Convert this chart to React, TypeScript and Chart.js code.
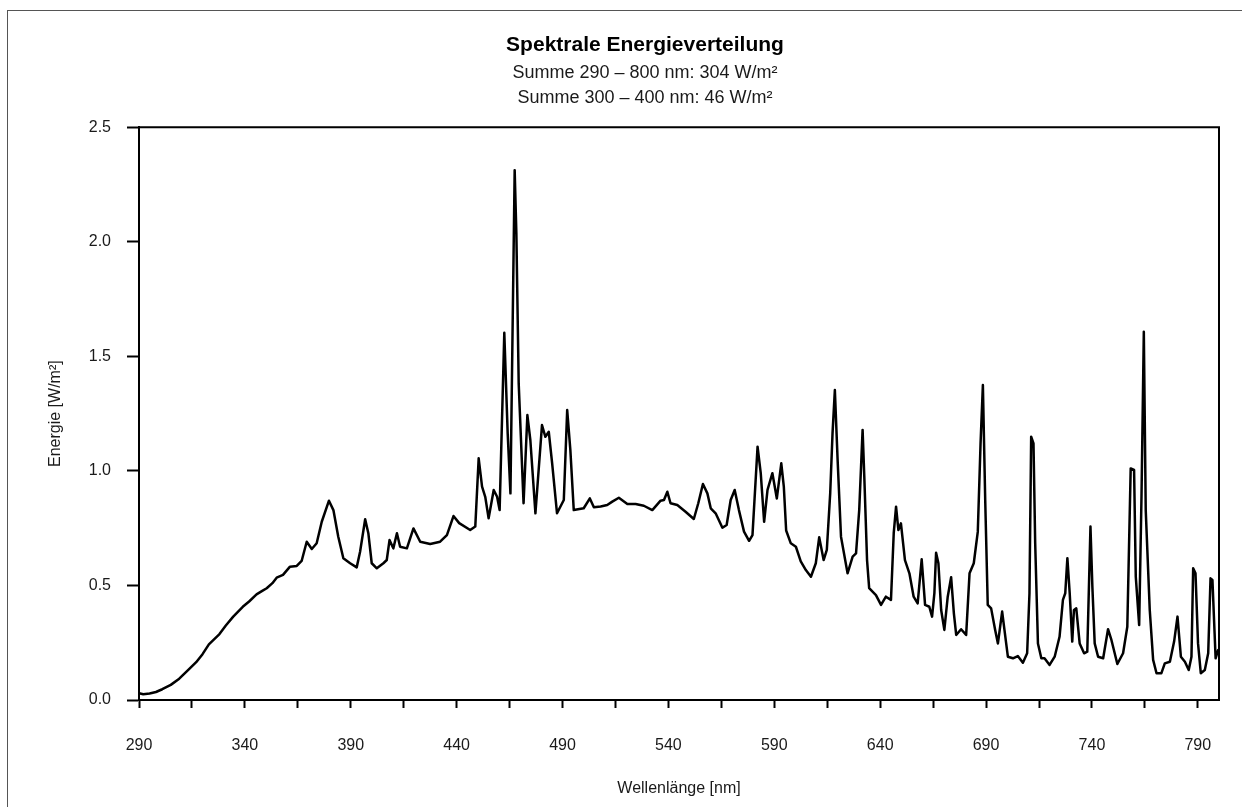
import { useEffect, useRef } from 'react';
import { Chart, registerables } from 'chart.js';

Chart.register(...registerables);

// Text
const TITLE = 'Spektrale Energieverteilung';
const SUBTITLES = ['Summe 290 – 800 nm: 304 W/m²', 'Summe 300 – 400 nm: 46 W/m²'];
const X_TITLE = 'Wellenlänge [nm]';
const Y_TITLE = 'Energie [W/m²]';

// Axes
const X_MIN = 290;
const X_MAX = 800;
const X_TICKS = [290, 315, 340, 365, 390, 415, 440, 465, 490, 515, 540, 565, 590, 615, 640, 665, 690, 715, 740, 765, 790];
const X_LABELS = [290, 340, 390, 440, 490, 540, 590, 640, 690, 740, 790];
const Y_MIN = 0;
const Y_MAX = 2.5;
const Y_STEP = 0.5;

// Spectrum: wavelength [nm] and energy [W/m²]
const wavelengths = [
  290, 292, 295, 298, 301, 305, 309, 314, 317, 320, 323, 328, 331, 334.5, 339, 342, 345.5, 348, 350.3, 353,
  355, 358, 361.3, 364.5, 366.8, 369.2, 371.6, 373.9, 376.3, 379.7, 381.8, 384.1, 386.5, 389.7, 392.8, 394.4,
  396.8, 398.3, 399.9, 402.3, 405.4, 407, 408.3, 410.1, 411.8, 413.3, 416.5, 419.6, 422.8, 427.5, 432.2, 435.4,
  438.5, 441.2, 446.4, 448.8, 450.4, 452, 453.5, 455.1, 457.5, 459.1, 460.3, 462.5, 464.1, 465.4, 467.4, 468.2,
  469.3, 471.6, 473.4, 474.8, 477.2, 480.3, 481.9, 483.5, 485.1, 487.4, 490.6, 492.2, 493.7, 495.3, 500, 502.9,
  504.8, 508, 511.1, 513.5, 516.6, 520.6, 524.5, 528.4, 532.4, 536.3, 537.9, 539.5, 541, 544.2, 548.1, 552,
  554.1, 556.3, 558.4, 560, 562.3, 565.5, 567.5, 569.4, 571.3, 573.3, 575.7, 578.1, 579.7, 582.1, 583.6, 585.2,
  586.8, 589.1, 591.2, 593.3, 594.5, 595.6, 597.8, 600.2, 602.5, 604.9, 607.3, 609.6, 611.2, 613.3, 614.8, 616.4,
  617.5, 618.6, 619.9, 621.5, 624.6, 627, 628.6, 630.1, 631.7, 632.5, 633.8, 634.8, 638, 640.4, 642.7, 645.1,
  646.4, 647.5, 648.6, 649.8, 651.7, 653.8, 655.8, 657.7, 659.6, 661.2, 663.2, 664.5, 665.6, 666.4, 667.5, 668.8,
  670.3, 671.9, 673.5, 674.8, 675.9, 678.2, 680.6, 682.2, 684.2, 686.1, 687.4, 688.5, 689.6, 690.8, 692.4, 694.3,
  695.6, 697.6, 699.5, 700.3, 702.7, 705, 707.4, 709.4, 710.5, 711.3, 712.4, 713.2, 714.5, 716.1, 717.6, 720,
  722.4, 724.7, 726.3, 727.4, 728.4, 729.5, 730.7, 731.5, 732.6, 734.2, 736.3, 737.8, 739.3, 740.2, 741.3, 742.9,
  745.3, 747.6, 749.2, 752, 754.7, 756.7, 758.3, 759.9, 760.7, 762.3, 763.4, 764.5, 765.4, 767.3, 768.9, 770.5,
  772.8, 774.4, 776.8, 778.8, 780.4, 782, 783.9, 785.7, 787, 787.8, 788.9, 790.1, 791.4, 793.3, 794.9, 796,
  796.9, 798.4, 799.6, 800,
];

const energy = [
  0.03, 0.025, 0.028, 0.035, 0.047, 0.066, 0.093, 0.138, 0.165, 0.2, 0.243, 0.288, 0.325, 0.364, 0.407, 0.43, 0.461, 0.475, 0.488, 0.51,
  0.534, 0.546, 0.582, 0.585, 0.607, 0.691, 0.659, 0.684, 0.778, 0.87, 0.829, 0.713, 0.619, 0.597, 0.579, 0.647,
  0.789, 0.728, 0.597, 0.575, 0.597, 0.611, 0.698, 0.662, 0.728, 0.669, 0.662, 0.749, 0.691, 0.681, 0.691, 0.72,
  0.803, 0.772, 0.742, 0.757, 1.055, 0.931, 0.887, 0.793, 0.917, 0.887, 0.829, 1.603, 1.164, 0.902, 2.313, 2.037,
  1.382, 0.859, 1.244, 1.135, 0.815, 1.2, 1.149, 1.171, 1.033, 0.815, 0.873, 1.266, 1.091, 0.829, 0.837, 0.88,
  0.841, 0.845, 0.851, 0.866, 0.883, 0.856, 0.856, 0.848, 0.829, 0.87, 0.873, 0.909, 0.859, 0.851, 0.822, 0.79,
  0.859, 0.943, 0.902, 0.837, 0.815, 0.752, 0.764, 0.873, 0.917, 0.829, 0.735, 0.695, 0.72, 1.106, 0.99, 0.778,
  0.917, 0.99, 0.88, 1.033, 0.931, 0.74, 0.684, 0.669, 0.605, 0.567, 0.538, 0.597, 0.71, 0.611, 0.655, 0.902,
  1.164, 1.353, 1.048, 0.713, 0.553, 0.626, 0.64, 0.829, 1.179, 0.975, 0.611, 0.488, 0.458, 0.415, 0.451, 0.437,
  0.728, 0.844, 0.742, 0.771, 0.611, 0.553, 0.451, 0.422, 0.614, 0.415, 0.407, 0.364, 0.466, 0.643, 0.597, 0.393,
  0.306, 0.451, 0.536, 0.378, 0.284, 0.309, 0.284, 0.553, 0.597, 0.735, 1.12, 1.375, 0.873, 0.415, 0.4, 0.306,
  0.247, 0.386, 0.247, 0.189, 0.182, 0.192, 0.163, 0.204, 0.466, 1.149, 1.12, 0.684, 0.247, 0.182, 0.182, 0.153,
  0.189, 0.276, 0.437, 0.466, 0.619, 0.466, 0.255, 0.393, 0.4, 0.247, 0.204, 0.211, 0.757, 0.495, 0.247, 0.189,
  0.182, 0.309, 0.262, 0.157, 0.204, 0.32, 1.011, 1.004, 0.538, 0.327, 0.887, 1.608, 0.829, 0.393, 0.175, 0.117,
  0.117, 0.16, 0.167, 0.255, 0.364, 0.189, 0.167, 0.131, 0.189, 0.575, 0.553, 0.247, 0.117, 0.131, 0.204, 0.531,
  0.524, 0.182, 0.218, 0.218,
];

const FONT = "'Liberation Sans', Arial, Helvetica, sans-serif";
const TEXT_COLOR = '#1a1a1a';

// Heading block above the plot: bold title plus two summary lines
const headings = {
  id: 'headings',
  afterDraw(chart: Chart) {
    const { ctx } = chart;
    const cx = 645;
    ctx.save();
    ctx.textAlign = 'center';
    ctx.textBaseline = 'middle';
    ctx.fillStyle = '#000';
    ctx.font = `bold 21px ${FONT}`;
    ctx.fillText(TITLE, cx, 45);
    ctx.fillStyle = TEXT_COLOR;
    ctx.font = `18px ${FONT}`;
    SUBTITLES.forEach((line, i) => ctx.fillText(line, cx, 73 + i * 25));
    ctx.restore();
  },
};

// Closes the plot box on the top and right sides
const frameBox = {
  id: 'frameBox',
  afterDraw(chart: Chart) {
    const { ctx, chartArea } = chart;
    const { left, top, right, bottom } = chartArea;
    ctx.save();
    ctx.strokeStyle = '#000';
    ctx.lineWidth = 2;
    ctx.beginPath();
    ctx.moveTo(left, top);
    ctx.lineTo(right, top);
    ctx.lineTo(right, bottom);
    ctx.stroke();
    ctx.restore();
  },
};

export default function App() {
  const canvasRef = useRef<HTMLCanvasElement | null>(null);

  useEffect(() => {
    document.body.style.margin = '0';
    const canvas = canvasRef.current;
    if (!canvas) return;

    const points = wavelengths.map((x, i) => ({ x, y: energy[i] }));

    const chart = new Chart(canvas, {
      type: 'line',
      data: {
        datasets: [
          {
            data: points,
            borderColor: '#000',
            borderWidth: 2.5,
            borderJoinStyle: 'round',
            pointRadius: 0,
            tension: 0,
            fill: false,
          },
        ],
      },
      options: {
        animation: false,
        responsive: false,
        layout: { padding: { left: 0, right: 23, top: 127.3, bottom: 0 } },
        plugins: {
          legend: { display: false },
          tooltip: { enabled: false },
          title: { display: false },
          subtitle: { display: false },
        },
        scales: {
          x: {
            type: 'linear',
            min: X_MIN,
            max: X_MAX,
            afterBuildTicks: (scale: any) => {
              scale.ticks = X_TICKS.map((value) => ({ value }));
            },
            afterFit: (scale: any) => {
              scale.height = 107;
            },
            ticks: {
              autoSkip: false,
              maxRotation: 0,
              padding: 28.4,
              color: TEXT_COLOR,
              font: { family: FONT, size: 16 },
              callback: (value: any) => (X_LABELS.includes(Number(value)) ? String(value) : ''),
            },
            grid: {
              drawOnChartArea: false,
              drawTicks: true,
              tickLength: 8,
              tickWidth: 2,
              tickColor: '#000',
            },
            border: { display: true, color: '#000', width: 2 },
            title: {
              display: true,
              text: X_TITLE,
              color: TEXT_COLOR,
              font: { family: FONT, size: 16 },
              padding: { top: 0, bottom: 8.4 },
            },
          },
          y: {
            min: Y_MIN,
            max: Y_MAX,
            afterFit: (scale: any) => {
              scale.width = 139;
            },
            ticks: {
              stepSize: Y_STEP,
              padding: 16,
              color: TEXT_COLOR,
              font: { family: FONT, size: 16 },
              callback: (value: any) => Number(value).toFixed(1),
            },
            grid: {
              drawOnChartArea: false,
              drawTicks: true,
              tickLength: 12,
              tickWidth: 2,
              tickColor: '#000',
            },
            border: { display: true, color: '#000', width: 2 },
            title: {
              display: true,
              text: Y_TITLE,
              color: TEXT_COLOR,
              font: { family: FONT, size: 16 },
              padding: { top: 46.4, bottom: 0 },
            },
          },
        },
      },
      plugins: [headings, frameBox],
    });

    return () => chart.destroy();
  }, []);

  return (
    <div
      style={{
        position: 'fixed',
        left: 0,
        top: 0,
        width: 1242,
        height: 807,
        overflow: 'hidden',
        background: '#fff',
      }}
    >
      <div
        style={{
          position: 'absolute',
          left: 7,
          top: 10,
          width: 1300,
          height: 900,
          border: '1px solid #555',
        }}
      />
      <canvas ref={canvasRef} width={1242} height={807} style={{ position: 'absolute', left: 0, top: 0 }} />
    </div>
  );
}
